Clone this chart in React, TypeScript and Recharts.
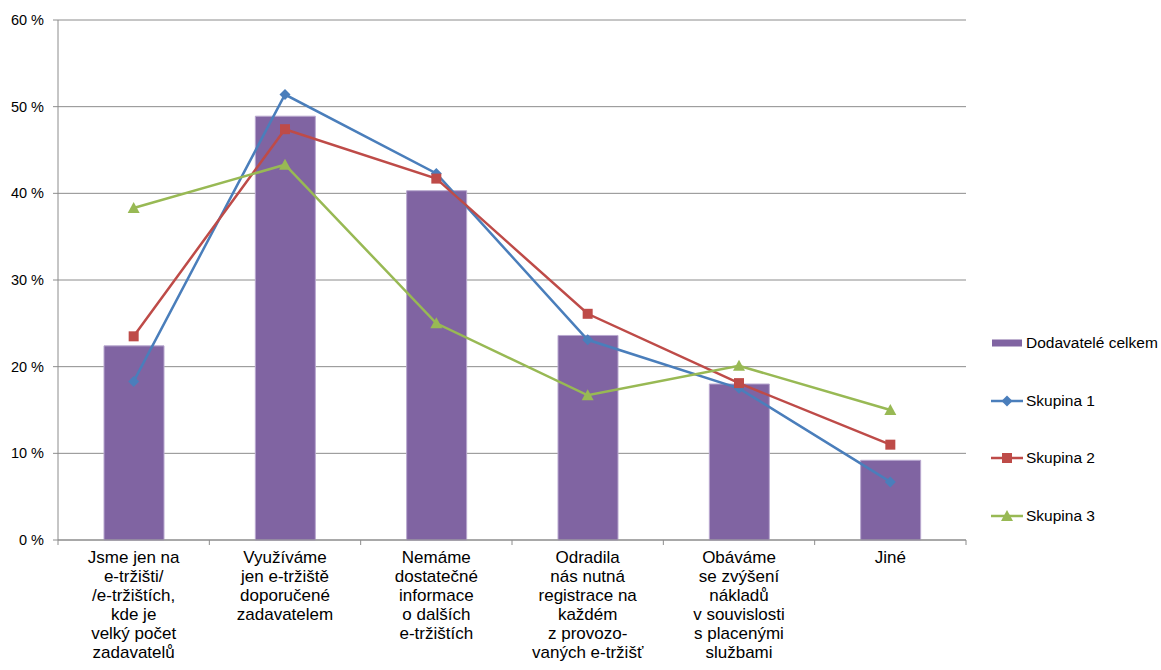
import { ComposedChart, Bar, Line, XAxis, YAxis, CartesianGrid } from 'recharts';

const categories = [
  'Jsme jen na\ne-tržišti/\n/e-tržištích,\nkde je\nvelký počet\nzadavatelů',
  'Využíváme\njen e-tržiště\ndoporučené\nzadavatelem',
  'Nemáme\ndostatečné\ninformace\no dalších\ne-tržištích',
  'Odradila\nnás nutná\nregistrace na\nkaždém\nz provozo-\nvaných e-tržišť',
  'Obáváme\nse zvýšení\nnákladů\nv souvislosti\ns placenými\nslužbami',
  'Jiné',
];
const celkem = [22.4, 48.9, 40.3, 23.6, 18.0, 9.2];
const skupina1 = [18.3, 51.4, 42.3, 23.1, 17.5, 6.7];
const skupina2 = [23.5, 47.4, 41.7, 26.1, 18.1, 11.0];
const skupina3 = [38.3, 43.3, 25.0, 16.7, 20.1, 15.0];
const yTicks = [0, 10, 20, 30, 40, 50, 60];

const data = categories.map((name, i) => ({
  name,
  celkem: celkem[i],
  s1: skupina1[i],
  s2: skupina2[i],
  s3: skupina3[i],
}));

const BLUE = '#4a7ebb';
const RED = '#be4b48';
const GREEN = '#98b954';
const PURPLE = '#8064a2';
const GRID = '#8c8c8c';
const FONT = '"Liberation Sans", Arial, sans-serif';

const PLOT_LEFT = 58;
const PLOT_RIGHT = 966;
const BAND = (PLOT_RIGHT - PLOT_LEFT) / categories.length;

const Diamond = ({ cx, cy, color }: any) => (
  <path d={`M${cx},${cy - 5.5}L${cx + 5.5},${cy}L${cx},${cy + 5.5}L${cx - 5.5},${cy}Z`} fill={color} />
);
const Square = ({ cx, cy, color }: any) => (
  <rect x={cx - 5} y={cy - 5} width={10} height={10} fill={color} />
);
const Triangle = ({ cx, cy, color }: any) => (
  <path d={`M${cx},${cy - 6}L${cx + 6},${cy + 5}L${cx - 6},${cy + 5}Z`} fill={color} />
);

const CategoryTick = ({ x, y, payload, index }: any) => {
  const lines = String(payload.value).split('\n');
  const left = x - BAND / 2;
  return (
    <g>
      <line x1={left} y1={y - 5} x2={left} y2={y} stroke={GRID} />
      {index === categories.length - 1 && (
        <line x1={left + BAND} y1={y - 5} x2={left + BAND} y2={y} stroke={GRID} />
      )}
      <text x={x} y={y + 18} textAnchor="middle" fontSize={17} fill="#000" fontFamily={FONT}>
        {lines.map((l, i) => (
          <tspan key={i} x={x} dy={i === 0 ? 0 : 19}>{l}</tspan>
        ))}
      </text>
    </g>
  );
};

const legendItems = [
  { label: 'Dodavatelé celkem', type: 'bar', color: PURPLE },
  { label: 'Skupina 1', type: 'diamond', color: BLUE },
  { label: 'Skupina 2', type: 'square', color: RED },
  { label: 'Skupina 3', type: 'triangle', color: GREEN },
];

const ChartLegend = () => (
  <div style={{ position: 'absolute', left: 990, top: 314, width: 171, fontFamily: FONT, fontSize: 15.5, color: '#000' }}>
    {legendItems.map((item) => (
      <div key={item.label} style={{ display: 'flex', alignItems: 'center', height: 57.7 }}>
        <svg width={34} height={14} style={{ marginRight: 2, flexShrink: 0 }}>
          {item.type === 'bar' ? (
            <rect x={2} y={3.5} width={30} height={7} fill={item.color} />
          ) : (
            <>
              <line x1={1} y1={7} x2={33} y2={7} stroke={item.color} strokeWidth={2.5} />
              {item.type === 'diamond' && <Diamond cx={17} cy={7} color={item.color} />}
              {item.type === 'square' && <Square cx={17} cy={7} color={item.color} />}
              {item.type === 'triangle' && <Triangle cx={17} cy={7} color={item.color} />}
            </>
          )}
        </svg>
        <span style={{ whiteSpace: 'nowrap' }}>{item.label}</span>
      </div>
    ))}
  </div>
);

export default function App() {
  return (
    <div style={{ position: 'absolute', left: 0, top: 0, width: 1161, height: 670, background: '#fff' }}>
      <ComposedChart
        width={1161}
        height={670}
        data={data}
        margin={{ top: 20, right: 1161 - PLOT_RIGHT, bottom: 0, left: 0 }}
      >
        <CartesianGrid vertical={false} stroke={GRID} />
        <XAxis
          dataKey="name"
          height={130}
          interval={0}
          stroke={GRID}
          tickLine={false}
          tickSize={5}
          tickMargin={0}
          tick={<CategoryTick />}
        />
        <YAxis
          width={PLOT_LEFT}
          domain={[0, 60]}
          ticks={yTicks}
          interval={0}
          stroke={GRID}
          tickSize={5}
          tickMargin={9}
          tickFormatter={(v: number) => `${v} %`}
          tick={{ fill: '#000', fontSize: 14.5, fontFamily: FONT }}
        />
        <Bar dataKey="celkem" fill={PURPLE} stroke="#b8a8cf" strokeWidth={1} barSize={60} isAnimationActive={false} />
        <Line
          type="linear"
          dataKey="s1"
          stroke={BLUE}
          strokeWidth={2.5}
          dot={(p: any) => <Diamond key={`d1-${p.index}`} cx={p.cx} cy={p.cy} color={BLUE} />}
          isAnimationActive={false}
        />
        <Line
          type="linear"
          dataKey="s2"
          stroke={RED}
          strokeWidth={2.5}
          dot={(p: any) => <Square key={`d2-${p.index}`} cx={p.cx} cy={p.cy} color={RED} />}
          isAnimationActive={false}
        />
        <Line
          type="linear"
          dataKey="s3"
          stroke={GREEN}
          strokeWidth={2.5}
          dot={(p: any) => <Triangle key={`d3-${p.index}`} cx={p.cx} cy={p.cy} color={GREEN} />}
          isAnimationActive={false}
        />
      </ComposedChart>
      <ChartLegend />
    </div>
  );
}
